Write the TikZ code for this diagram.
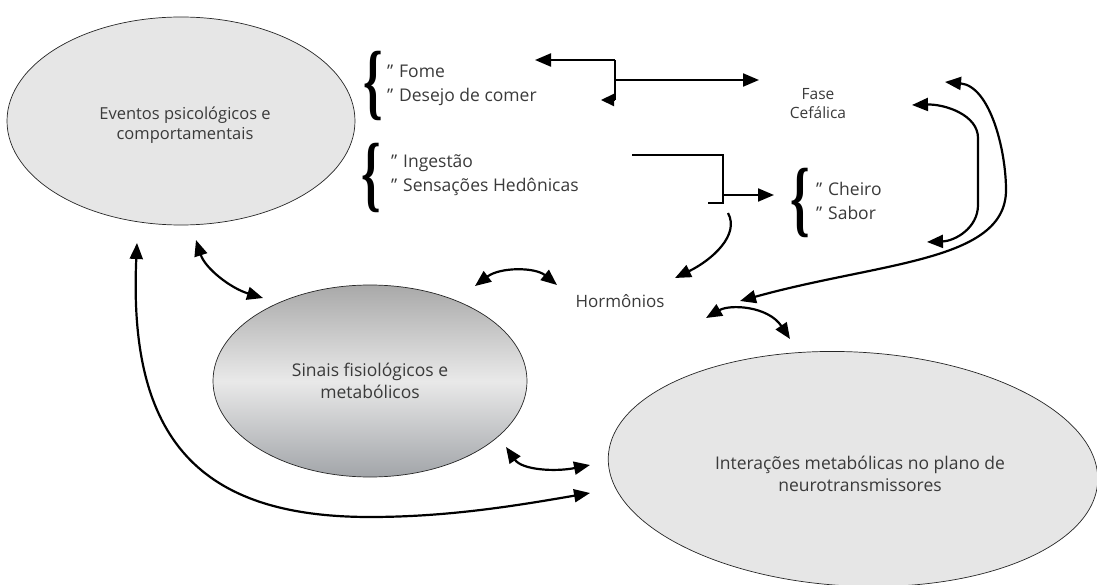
\documentclass[tikz,border=0pt]{standalone}
\usepackage{fontspec}
\setmainfont{Open Sans}
\newfontfamily\bracefont{Liberation Serif}
\usetikzlibrary{shapes.geometric,arrows.meta}
\definecolor{txtgray}{HTML}{3A3A3A}
\definecolor{ellgray}{HTML}{E6E6E6}
\definecolor{shtop}{HTML}{A9A9A9}
\definecolor{shmid}{HTML}{E9E9E9}
\definecolor{shbot}{HTML}{A2A5A9}
\begin{document}
\begin{tikzpicture}[x=1pt,y=-1pt,
  txt/.style={font=\fontsize{17.5}{22}\selectfont, text=txtgray, align=center, inner sep=0},
  lst/.style={font=\fontsize{17.5}{24}\selectfont, text=txtgray, align=left, inner sep=0, anchor=west},
  ell/.style={ellipse, draw=black!85, line width=0.7pt, inner sep=0},
  brc/.style={inner sep=0, text=black},
  arr/.style={line width=2.2pt, -{Triangle[length=16pt,width=13pt]}},
  darr/.style={line width=2.2pt, {Triangle[length=16pt,width=13pt]}-{Triangle[length=16pt,width=13pt]}},
  ln/.style={line width=2.2pt},
]
\useasboundingbox (0,0) rectangle (1097,585);

% ellipses
\node[ell, fill=ellgray, minimum width=348, minimum height=208] (ev) at (181,121) {};
\node[txt, font=\fontsize{16.5}{20}\selectfont] (evt) at (185,125) {Eventos psicológicos e\\comportamentais};

\node[ell, top color=shtop, bottom color=shbot, middle color=shmid,
      minimum width=314, minimum height=192] (si) at (370,381) {};
\node[txt] (sit) at (370,381) {Sinais fisiológicos e\\metabólicos};

\node[ell, fill=ellgray, minimum width=490, minimum height=234, rotate=-3] (in) at (853,469) {};
\node[txt] (int) at (860,474) {Interações metabólicas no plano de\\neurotransmissores};

% braces and lists
\node[brc] (b1) at (373,86) {\scalebox{0.62}[1.05]{\bracefont\bfseries\fontsize{80}{80}\selectfont\{}};
\node[lst] (l1) at (387,85) {"\,\,Fome\\"\,\,Desejo de comer};

\node[brc] (b2) at (371,178) {\scalebox{0.62}[1.05]{\bracefont\bfseries\fontsize{80}{80}\selectfont\{}};
\node[lst] (l2) at (391,175) {"\,\,Ingestão\\"\,\,Sensações Hedônicas};

\node[brc] (b3) at (800,203) {\scalebox{0.62}[1.05]{\bracefont\bfseries\fontsize{80}{80}\selectfont\{}};
\node[lst] (l3) at (816,201) {"\,\,Cheiro\\"\,\,Sabor};

\node[txt, font=\fontsize{15.5}{19}\selectfont] (fc) at (818,104) {Fase\\Cefálica};
\node[txt, font=\fontsize{17}{20}\selectfont] (ho) at (620,301) {Hormônios};

% free ends
\coordinate (p1) at (535,60);
\coordinate (c1) at (615,60);
\coordinate (c2) at (615,100);
\coordinate (p2) at (601,100);
\coordinate (j1) at (615,80);
\coordinate (p3) at (759,80);

\coordinate (q1) at (632,155);
\coordinate (d1) at (723,155);
\coordinate (d2) at (723,203);
\coordinate (q2) at (708,203);
\coordinate (j2) at (723,195);
\coordinate (q3) at (774,195);
\coordinate (q4) at (728,213);
\coordinate (q5) at (675,278);

% top bracket
\draw[ln, -{Triangle[length=16pt,width=13pt]}] (c1) -- (p1);
\draw[ln] (c1) -- (c2);
\draw[ln, -{Triangle[length=13pt,width=12pt]}] (c2) -- (p2);
\draw[arr] (j1) -- (p3);

% second bracket
\draw[ln] (q1) -- (d1) -- (d2) -- (q2);
\draw[arr] (j2) -- (q3);
\draw[arr] (q4) .. controls (740,235) and (712,260) .. (q5);

% right loops
\draw[darr] (945,82) .. controls (990,86) and (1006,150) .. (1006,190)
   .. controls (1006,262) and (880,262) .. (740,301);
\draw[darr] (912,105) .. controls (945,104) and (978,115) .. (978,138) -- (978,205)
   .. controls (978,228) and (955,241) .. (927,242);

% double arrows
\draw[darr] (706,318) .. controls (730,304) and (768,306) .. (790,339);
\draw[darr] (475,286) .. controls (500,267) and (535,267) .. (557,285);
\draw[darr] (196,240) .. controls (205,268) and (230,288) .. (263,298);
\draw[darr] (506,447) .. controls (522,470) and (555,472) .. (590,465);
\draw[darr] (137,243) .. controls (128,440) and (200,517) .. (370,517)
   .. controls (450,517) and (520,505) .. (590,493);
\end{tikzpicture}
\end{document}
